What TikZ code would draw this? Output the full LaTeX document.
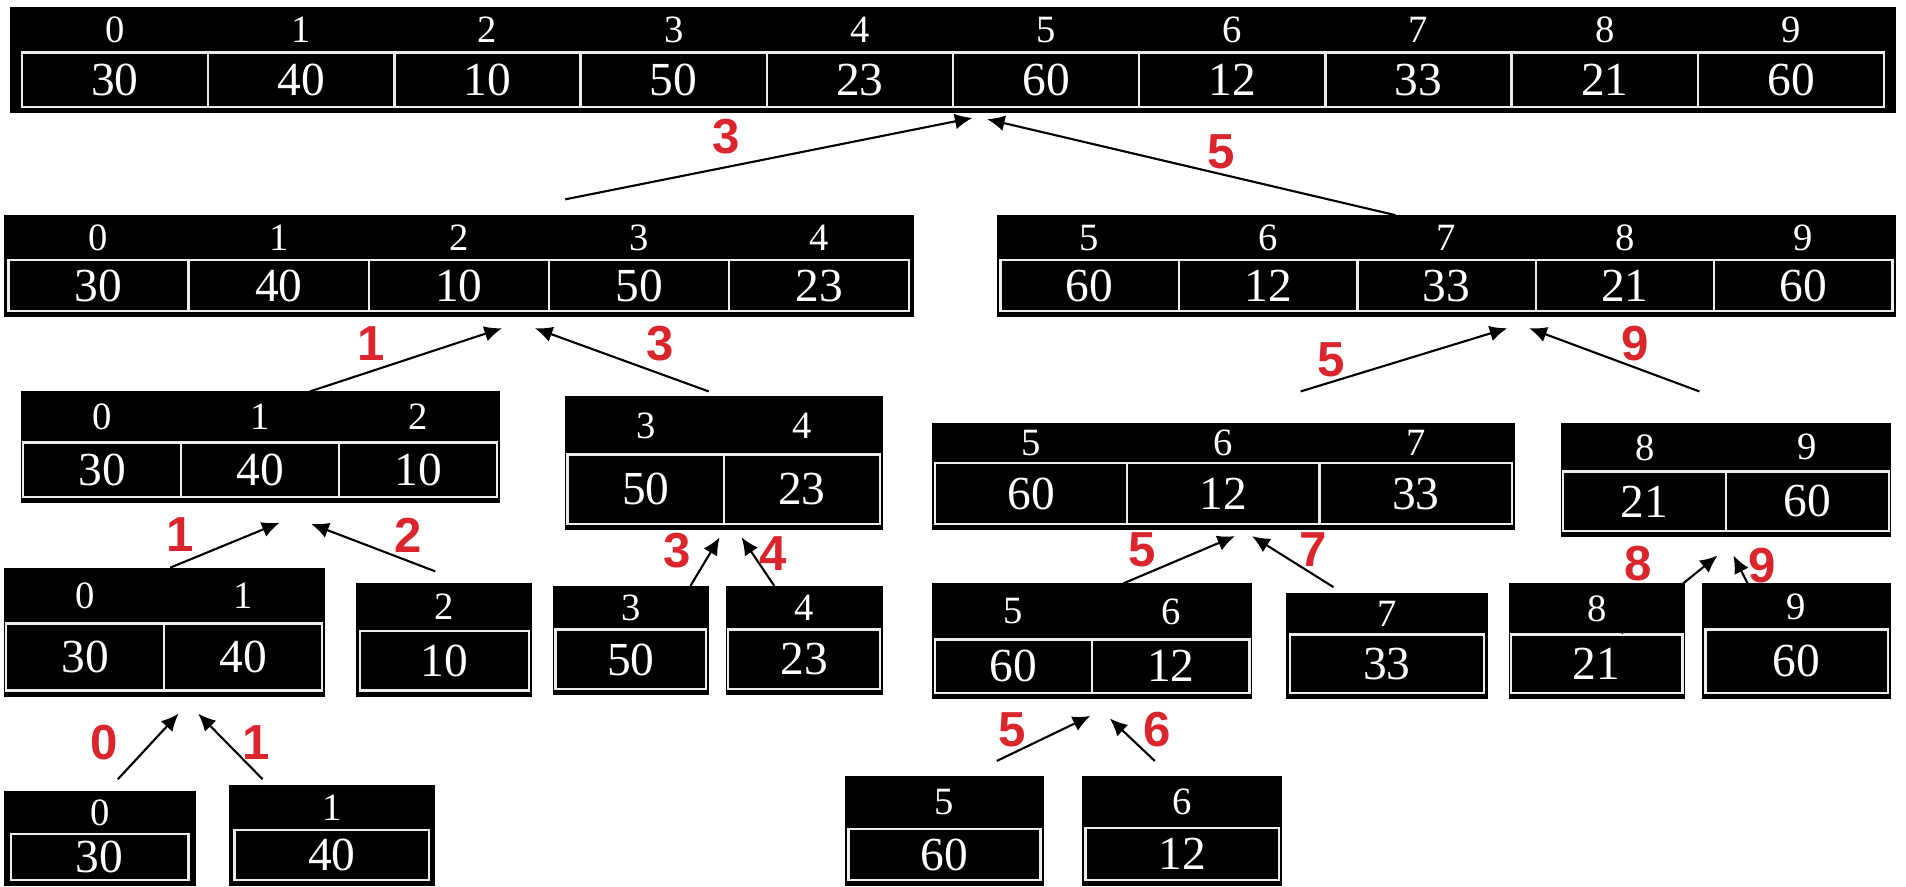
\documentclass[tikz,border=0pt]{standalone}
\usepackage{fontspec}
\setmainfont{Liberation Serif}
\newfontfamily\rotulo{Liberation Sans}
\usetikzlibrary{arrows.meta,fit}
\definecolor{rojo}{RGB}{218,37,44}
\tikzset{
  caja/.style={fill=black, draw=none, inner sep=0pt},
  rejilla/.style={draw=gray!15, line width=0.7pt},
  indice/.style={text=white, font=\fontsize{11}{11}\selectfont, inner sep=0pt},
  valor/.style={text=white, font=\fontsize{13.5}{13.5}\selectfont, inner sep=0pt},
  paso/.style={text=rojo, font=\rotulo\bfseries\fontsize{14}{14}\selectfont, inner sep=0pt},
  flecha/.style={-{Latex[length=5pt,width=4.5pt]}, line width=0.6pt}
}
\newcommand{\bloque}[9]{%
  \node[caja, fit={(#2,#3) (#4,#5)}] (#1) {};
  \draw[rejilla] ({#2+#9},#6) rectangle ({#4-#9},{#5-5});
  \foreach \i/\v [count=\k] in {#8}{
    \pgfmathsetmacro{\xc}{#2+#9+(\k-0.5)*(#4-#2-2*#9)/#7}
    \pgfmathsetmacro{\xd}{#2+#9+\k*(#4-#2-2*#9)/#7}
    \node[indice] (#1-i\k) at (\xc,{(#3+#6)/2}) {\i};
    \node[valor] (#1-v\k) at (\xc,{(#6+#5-5)/2}) {\v};
    \ifnum\k<#7 \draw[rejilla] (\xd,#6) -- (\xd,{#5-5}); \fi
  }%
}
\begin{document}
\begin{tikzpicture}[x=0.012156cm, y=-0.012156cm]
    \useasboundingbox (0,0) rectangle (1568,729);
    \bloque{raiz}{8}{6}{1560}{93}{43}{10}{0/30,1/40,2/10,3/50,4/23,5/60,6/12,7/33,8/21,9/60}{10}
    \bloque{izq}{3}{177}{752}{261}{214}{5}{0/30,1/40,2/10,3/50,4/23}{4}
    \bloque{der}{820}{177}{1560}{261}{214}{5}{5/60,6/12,7/33,8/21,9/60}{3}
    \bloque{izqa}{17}{322}{411}{414}{364}{3}{0/30,1/40,2/10}{2}
    \bloque{izqb}{465}{326}{726}{436}{374}{2}{3/50,4/23}{2}
    \bloque{dera}{767}{348}{1246}{436}{381}{3}{5/60,6/12,7/33}{2}
    \bloque{derb}{1284}{348}{1556}{442}{388}{2}{8/21,9/60}{2}
    \bloque{h01}{3}{467}{267}{573}{513}{2}{0/30,1/40}{2}
    \bloque{h2}{293}{480}{438}{573}{519}{1}{2/10}{3}
    \bloque{h3}{455}{482}{583}{572}{518}{1}{3/50}{2}
    \bloque{h4}{597}{482}{726}{572}{518}{1}{4/23}{2}
    \bloque{h56}{767}{480}{1030}{575}{526}{2}{5/60,6/12}{2}
    \bloque{h7}{1058}{488}{1224}{575}{522}{1}{7/33}{3}
    \bloque{h8}{1241}{480}{1386}{575}{522}{1}{8/21}{2}
    \bloque{h9}{1400}{480}{1556}{575}{518}{1}{9/60}{3}
    \bloque{h0}{3}{651}{161}{729}{686}{1}{0/30}{6}
    \bloque{h1}{188}{646}{358}{729}{683}{1}{1/40}{5}
    \bloque{h5}{695}{638}{859}{729}{682}{1}{5/60}{3}
    \bloque{h6}{890}{638}{1055}{729}{681}{1}{6/12}{3}
    \foreach \n/\xs/\ys/\xe/\ye/\lx/\ly/\t in {
        a1/465/164/800/97/597/112/3, a2/1148/177/812/98/1005/125/5,
        b1/255/322/413/270/305/283/1, b2/583/322/440/270/543/283/3,
        b3/1070/322/1240/270/1095/296/5, b4/1398/322/1258/270/1345/283/9,
        c1/140/467/230/430/148/440/1, c2/358/470/256/431/336/440/2,
        c3/568/482/592/442/557/453/3, c4/637/482/610/442/636/455/4,
        c5/924/480/1016/441/940/452/5, c6/1097/483/1030/441/1080/452/7,
        c7/1334/521/1413/457/1348/464/8, c8/1452/508/1426/457/1450/465/9,
        d1/97/641/147/587/86/611/0, d2/216/641/163/587/211/611/1,
        d3/820/626/897/589/833/600/5, d4/950/626/913/591/952/600/6}
        {\coordinate (\n-s) at (\xs,\ys);
        \coordinate (\n-e) at (\xe,\ye);
        \draw[flecha] (\n-s) -- (\n-e);
        \node[paso] (\n-t) at (\lx,\ly) {\t};}
\end{tikzpicture}
\end{document}
